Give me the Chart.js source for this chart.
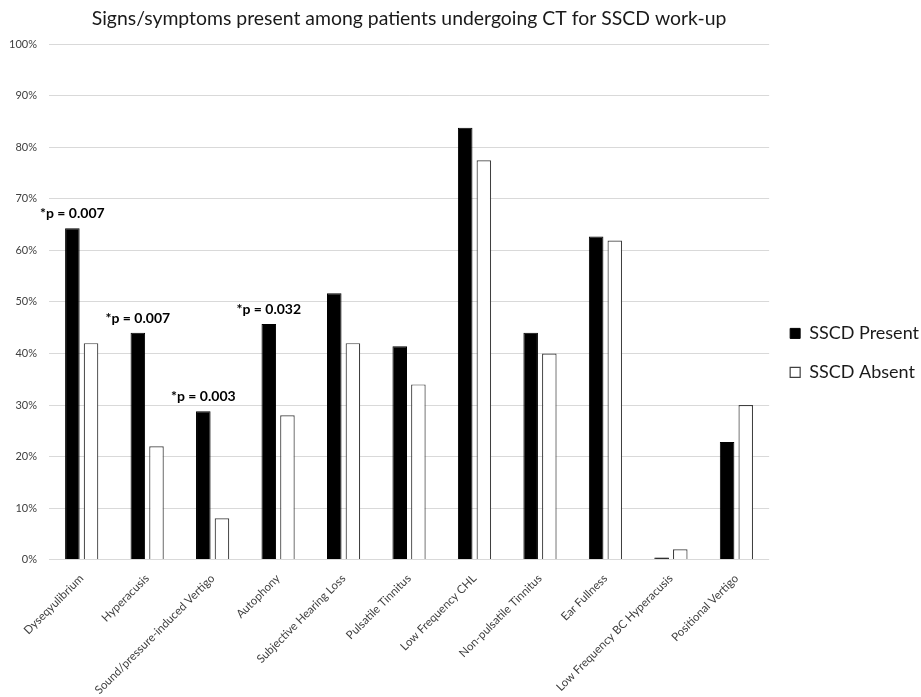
<!DOCTYPE html>
<html>
<head>
<meta charset="utf-8">
<script src="https://cdn.jsdelivr.net/npm/chart.js@4/dist/chart.umd.min.js"></script>
<style>
  html, body { margin: 0; padding: 0; background: #fff; }
  #wrap { width: 921px; height: 697px; position: relative; }
</style>
</head>
<body>
<div id="wrap"><canvas id="c"></canvas></div>
<script>
// Symptom categories along the x axis
const categories = [
  'Dyseqyulibrium',
  'Hyperacusis',
  'Sound/pressure-induced Vertigo',
  'Autophony',
  'Subjective Hearing Loss',
  'Pulsatile Tinnitus',
  'Low Frequency CHL',
  'Non-pulsatile Tinnitus',
  'Ear Fullness',
  'Low Frequency BC Hyperacusis',
  'Positional Vertigo'
];

// Percentage of patients with each sign/symptom
const sscdPresent = [64.3, 44.0, 28.8, 45.7, 51.7, 41.4, 83.8, 44.0, 62.7, 0.4, 22.8];
const sscdAbsent  = [42.0, 22.0, 8.0, 28.0, 42.0, 34.0, 77.5, 40.0, 61.9, 2.0, 30.0];

// Significance notes shown above the SSCD Present bars
const pValueNotes = ['*p = 0.007', '*p = 0.007', '*p = 0.003', '*p = 0.032', null, null, null, null, null, null, null];

// Y axis range
const yMin = 0;
const yMax = 100;
const yStep = 10;

const FONT = 'Lato, "Open Sans", "Liberation Sans", sans-serif';

// Writes the p-value notes centred over the matching SSCD Present bar
const pValuePlugin = {
  id: 'pValueNotes',
  afterDatasetsDraw(chart) {
    const meta = chart.getDatasetMeta(0);
    const ctx = chart.ctx;
    ctx.save();
    ctx.font = 'bold 14px ' + FONT;
    ctx.fillStyle = '#000';
    ctx.textAlign = 'center';
    ctx.textBaseline = 'alphabetic';
    pValueNotes.forEach((note, i) => {
      if (!note) return;
      const bar = meta.data[i];
      ctx.fillText(note, bar.x, bar.y - 10);
    });
    ctx.restore();
  }
};

new Chart(document.getElementById('c'), {
  type: 'bar',
  data: {
    labels: categories,
    datasets: [
      {
        label: 'SSCD Present',
        data: sscdPresent,
        backgroundColor: '#000000',
        borderColor: '#000000',
        borderWidth: 1,
        categoryPercentage: 0.57,
        barPercentage: 0.78
      },
      {
        label: 'SSCD Absent',
        data: sscdAbsent,
        backgroundColor: '#ffffff',
        borderColor: '#404040',
        borderWidth: 1.2,
        categoryPercentage: 0.57,
        barPercentage: 0.78
      }
    ]
  },
  options: {
    responsive: true,
    maintainAspectRatio: false,
    animation: false,
    devicePixelRatio: 1,
    layout: { padding: { left: -3, right: -8, top: 0, bottom: -4 } },
    plugins: {
      title: {
        display: true,
        text: 'Signs/symptoms present among patients undergoing CT for SSCD work-up',
        fullSize: false,
        color: '#1a1a1a',
        font: { family: FONT, size: 19.4, weight: 'normal' },
        padding: { top: 7, bottom: 14 }
      },
      legend: {
        position: 'right',
        align: 'center',
        title: { display: true, text: '', padding: { top: 0, bottom: 0 }, font: { size: 4 } },
        labels: {
          color: '#1a1a1a',
          font: { family: FONT, size: 18 },
          boxWidth: 10,
          boxHeight: 10,
          padding: 21,
          useBorderRadius: false
        }
      },
      tooltip: { enabled: false }
    },
    scales: {
      x: {
        grid: { display: false },
        border: { display: false },
        ticks: {
          color: '#404040',
          font: { family: FONT, size: 11.5 },
          minRotation: 45,
          maxRotation: 45,
          autoSkip: false,
          padding: 4
        }
      },
      y: {
        min: yMin,
        max: yMax,
        grid: { color: '#d9d9d9', lineWidth: 1, drawTicks: false },
        border: { display: false },
        ticks: {
          stepSize: yStep,
          color: '#404040',
          font: { family: FONT, size: 11 },
          padding: 12,
          callback: v => v + '%'
        }
      }
    }
  },
  plugins: [pValuePlugin]
});
</script>
</body>
</html>
